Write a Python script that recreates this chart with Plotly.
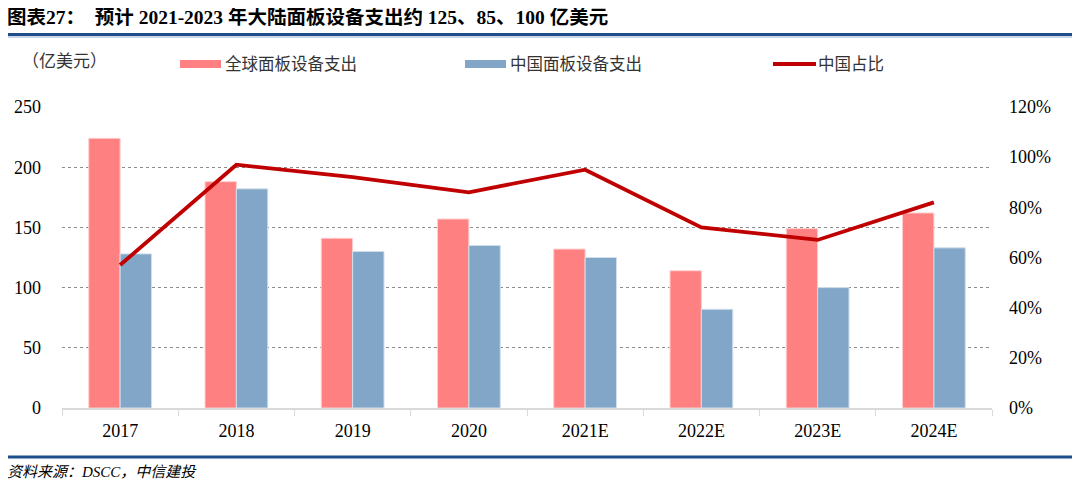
import plotly.graph_objects as go

categories = ["2017", "2018", "2019", "2020", "2021E", "2022E", "2023E", "2024E"]
global_spend = [224, 188, 141, 157, 132, 114, 149, 162]
china_spend = [128, 182, 130, 135, 125, 82, 100, 133]
china_share = [0.57, 0.97, 0.92, 0.86, 0.95, 0.72, 0.67, 0.82]

c_global = "#FF8080"
c_china = "#82A6C8"
c_line = "#C00000"
navy = "#1F4E8C"

serif = "Times New Roman, Liberation Serif, Noto Sans CJK SC, serif"
cjk = "SimSun, Liberation Serif, Noto Sans CJK SC, serif"

fig = go.Figure()
fig.add_trace(go.Bar(x=categories, y=global_spend, name="全球面板设备支出",
                     marker=dict(color=c_global, line=dict(color="#FFD0D0", width=1))))
fig.add_trace(go.Bar(x=categories, y=china_spend, name="中国面板设备支出",
                     marker=dict(color=c_china, line=dict(color="#D0DEEC", width=1))))
fig.add_trace(go.Scatter(x=categories, y=china_share, name="中国占比", yaxis="y2",
                         mode="lines", line=dict(color=c_line, width=3.8)))

fig.update_layout(
    width=1072, height=482,
    margin=dict(l=54, r=88, t=99, b=82),
    paper_bgcolor="white", plot_bgcolor="white",
    barmode="group", bargap=0.46, bargroupgap=0,
    showlegend=False,
    font=dict(family=serif, size=18, color="#000000"),
    xaxis=dict(showgrid=False, showline=True, linecolor="#D9D9D9", linewidth=1.5,
               ticks="outside", tickson="boundaries", ticklen=6, tickcolor="#D9D9D9",
               tickfont=dict(family=serif, size=18), ticklabelstandoff=6, automargin=False),
    yaxis=dict(range=[0, 250], dtick=50, showgrid=True, gridcolor="#8C8C8C",
               griddash="dot", gridwidth=1, zeroline=False, showline=False,
               tickfont=dict(family=serif, size=18), ticks="", ticklabelstandoff=20,
               automargin=False),
    yaxis2=dict(range=[0, 1.2], dtick=0.2, tickformat=".0%", overlaying="y",
                side="right", showgrid=False, zeroline=False, showline=False,
                tickfont=dict(family=serif, size=18), ticklabelstandoff=16,
                automargin=False),
)

def py(ypix):
    return (408 - ypix) / 301.0

def px(xpix):
    return (xpix - 62) / 930.0

fig.add_shape(type="line", xref="paper", yref="paper", x0=px(8), x1=px(1072),
              y0=py(34.5), y1=py(34.5), line=dict(color=navy, width=3))
fig.add_shape(type="line", xref="paper", yref="paper", x0=px(8), x1=px(1072),
              y0=py(37), y1=py(37), line=dict(color="#8FAACC", width=1))
fig.add_shape(type="line", xref="paper", yref="paper", x0=px(8), x1=px(1072),
              y0=py(457), y1=py(457), line=dict(color=navy, width=3))

fig.add_annotation(xref="paper", yref="paper", x=px(5), y=py(17), xanchor="left", yanchor="middle",
                   text="<b>图表27：  预计 2021-2023 年大陆面板设备支出约 125、85、100 亿美元</b>",
                   showarrow=False, font=dict(family=cjk, size=19.5, color="#000000"))
fig.add_annotation(xref="paper", yref="paper", x=px(5), y=py(472), xanchor="left", yanchor="middle",
                   text="<i>资料来源：DSCC，中信建投</i>",
                   showarrow=False, font=dict(family=cjk, size=15, color="#000000"))
fig.add_annotation(xref="paper", yref="paper", x=px(20), y=py(61), xanchor="left", yanchor="middle",
                   text="（亿美元）", showarrow=False, font=dict(family=cjk, size=17, color="#333333"))

# manual legend
legend_items = [
    (180, "rect", c_global, "全球面板设备支出"),
    (465, "rect", c_china, "中国面板设备支出"),
    (773, "line", c_line, "中国占比"),
]
for x0, kind, col, label in legend_items:
    if kind == "rect":
        fig.add_shape(type="rect", xref="paper", yref="paper", x0=px(x0), x1=px(x0 + 41),
                      y0=py(68), y1=py(60), line=dict(width=0), fillcolor=col)
    else:
        fig.add_shape(type="line", xref="paper", yref="paper", x0=px(x0), x1=px(x0 + 43),
                      y0=py(64), y1=py(64), line=dict(color=col, width=3.8))
    fig.add_annotation(xref="paper", yref="paper", x=px(x0 + 43), y=py(64), xanchor="left",
                       yanchor="middle", text=label, showarrow=False,
                       font=dict(family=cjk, size=16.5, color="#333333"))

fig.write_html("out.html")
